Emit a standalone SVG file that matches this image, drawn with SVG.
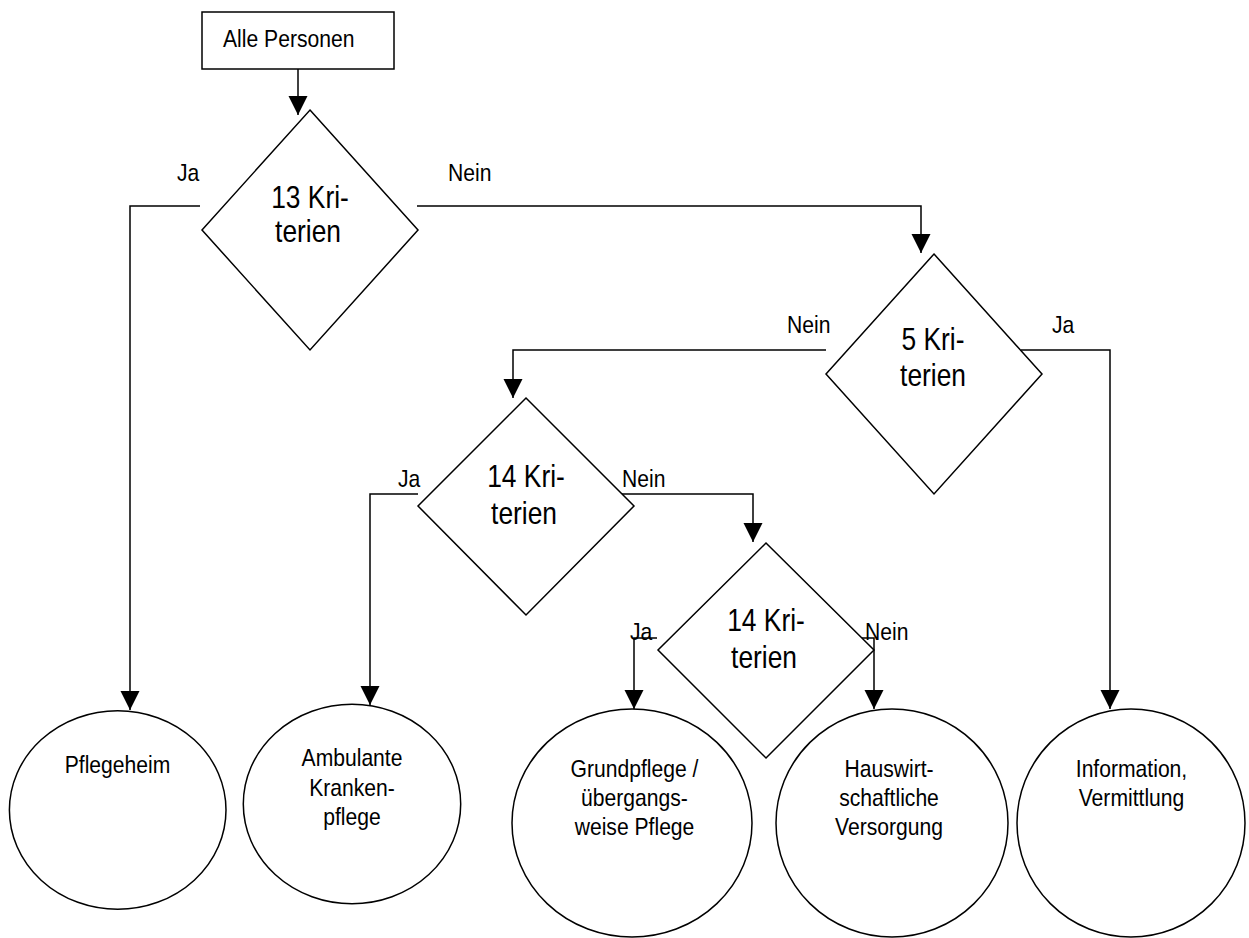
<svg xmlns="http://www.w3.org/2000/svg" width="1249" height="938" viewBox="0 0 1249 938">
<defs>
<style>
.s{fill:#fff;stroke:#000;stroke-width:1.5}
.c{fill:none;stroke:#000;stroke-width:1.5}
text{font-family:"Liberation Sans",Arial,sans-serif;fill:#000}
.t{font-size:24px}
.d{font-size:31px}
.m{text-anchor:middle}
</style>
<marker id="ah" markerUnits="userSpaceOnUse" markerWidth="20" markerHeight="20" refX="19" refY="9.5" orient="auto">
<path d="M0,0 L19,9.5 L0,19 Z" fill="#000"/>
</marker>
</defs>
<rect width="1249" height="938" fill="#fff"/>
<g id="connectors">
<path class="c" d="M298,69 V115" marker-end="url(#ah)"/>
<path class="c" d="M200,206 H130 V710" marker-end="url(#ah)"/>
<path class="c" d="M417,206 H921 V253" marker-end="url(#ah)"/>
<path class="c" d="M826,350 H513 V398" marker-end="url(#ah)"/>
<path class="c" d="M1021,350 H1110 V709" marker-end="url(#ah)"/>
<path class="c" d="M418,494 H370 V705" marker-end="url(#ah)"/>
<path class="c" d="M621,494 H753 V542" marker-end="url(#ah)"/>
<path class="c" d="M657,638 H634 V709" marker-end="url(#ah)"/>
<path class="c" d="M862,638 H874 V709" marker-end="url(#ah)"/>
<text class="t" transform="translate(177,181) scale(0.88,1)">Ja</text>
<text class="t" transform="translate(448,181) scale(0.88,1)">Nein</text>
<text class="t" transform="translate(787,333) scale(0.88,1)">Nein</text>
<text class="t" transform="translate(1052,333) scale(0.88,1)">Ja</text>
<text class="t" transform="translate(398,487) scale(0.88,1)">Ja</text>
<text class="t" transform="translate(622,487) scale(0.88,1)">Nein</text>
<text class="t" transform="translate(630,640) scale(0.88,1)">Ja</text>
<text class="t" transform="translate(865,640) scale(0.88,1)">Nein</text>
</g>
<g id="start">
<rect class="s" x="202" y="12" width="192" height="57"/>
<text class="t" transform="translate(223,47) scale(0.88,1)">Alle Personen</text>
</g>
<g id="d13">
<polygon class="s" points="310,110 418,230 310,350 202,230"/>
<text class="d m" transform="translate(310,208) scale(0.85,1)">13 Kri-</text>
<text class="d m" transform="translate(308,242) scale(0.85,1)">terien</text>
</g>
<g id="d5">
<polygon class="s" points="934,254 1042,374 934,494 826,374"/>
<text class="d m" transform="translate(933,350) scale(0.85,1)">5 Kri-</text>
<text class="d m" transform="translate(933,386) scale(0.85,1)">terien</text>
</g>
<g id="d14a">
<polygon class="s" points="526,398 634,506 526,615 418,506"/>
<text class="d m" transform="translate(526,487) scale(0.85,1)">14 Kri-</text>
<text class="d m" transform="translate(524,524) scale(0.85,1)">terien</text>
</g>
<g id="d14b">
<polygon class="s" points="766,543 874,650 766,758 658,650"/>
<text class="d m" transform="translate(766,631) scale(0.85,1)">14 Kri-</text>
<text class="d m" transform="translate(764,668) scale(0.85,1)">terien</text>
</g>
<g id="pflegeheim">
<ellipse class="s" cx="117.7" cy="810" rx="108.3" ry="99.3"/>
<text class="t m" transform="translate(117.5,773) scale(0.88,1)">Pflegeheim</text>
</g>
<g id="ambulante">
<ellipse class="s" cx="352" cy="804" rx="108.7" ry="99.7"/>
<text class="t m" transform="translate(352,766) scale(0.88,1)">Ambulante</text>
<text class="t m" transform="translate(352,796) scale(0.88,1)">Kranken-</text>
<text class="t m" transform="translate(352,825) scale(0.88,1)">pflege</text>
</g>
<g id="grundpflege">
<ellipse class="s" cx="632" cy="823" rx="120" ry="114"/>
<text class="t m" transform="translate(634.5,777) scale(0.88,1)">Grundpflege /</text>
<text class="t m" transform="translate(634.5,806) scale(0.88,1)">übergangs-</text>
<text class="t m" transform="translate(634.5,835) scale(0.88,1)">weise Pflege</text>
</g>
<g id="hauswirtschaft">
<ellipse class="s" cx="892" cy="823" rx="116" ry="114"/>
<text class="t m" transform="translate(889,777) scale(0.88,1)">Hauswirt-</text>
<text class="t m" transform="translate(889,806) scale(0.88,1)">schaftliche</text>
<text class="t m" transform="translate(889,835) scale(0.88,1)">Versorgung</text>
</g>
<g id="information">
<ellipse class="s" cx="1131" cy="823" rx="114" ry="114"/>
<text class="t m" transform="translate(1131.5,777) scale(0.88,1)">Information,</text>
<text class="t m" transform="translate(1131.5,806) scale(0.88,1)">Vermittlung</text>
</g>
</svg>
